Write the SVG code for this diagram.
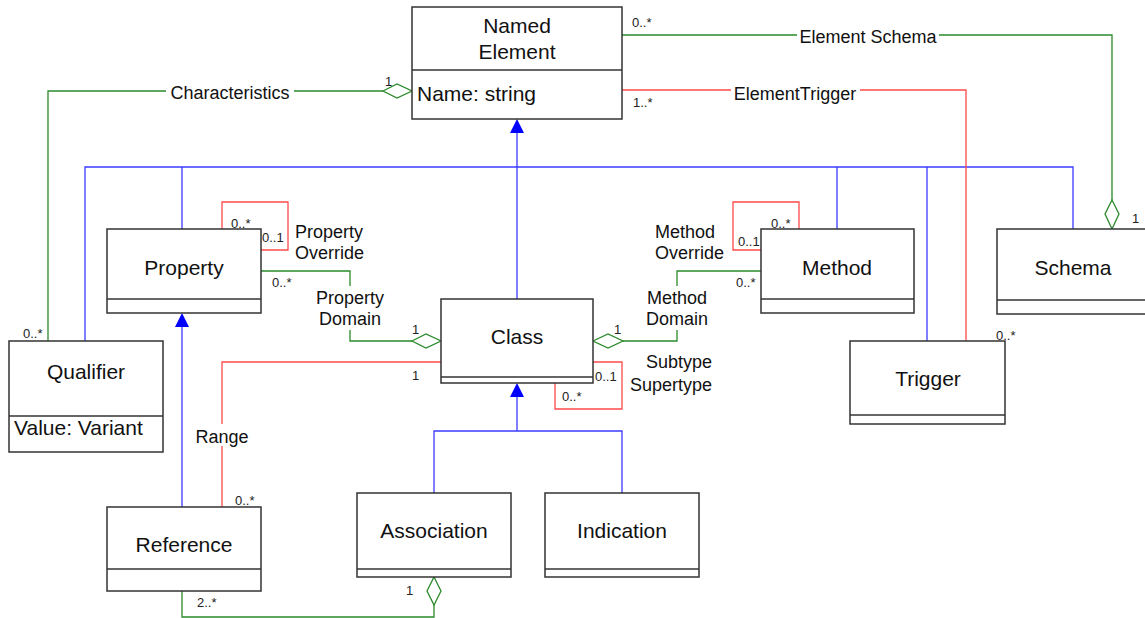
<svg xmlns="http://www.w3.org/2000/svg" width="1145" height="618" viewBox="0 0 1145 618">
  <style>
    .box { fill: #ffffff; stroke: #333333; stroke-width: 1.5; }
    .div { stroke: #333333; stroke-width: 1.5; fill: none; }
    .name { font-family: "Liberation Sans", Arial, sans-serif; font-size: 21px; fill: #111111; }
    .lbl { font-family: "Liberation Sans", Arial, sans-serif; font-size: 18px; fill: #111111; }
    .mul { font-family: "Liberation Sans", Arial, sans-serif; font-size: 13px; fill: #222222; }
    .gen { stroke: #3b3bff; stroke-width: 1.3; fill: none; }
    .agg { stroke: #2a8a2a; stroke-width: 1.3; fill: none; }
    .ref { stroke: #ff4a4a; stroke-width: 1.3; fill: none; }
    .dia { stroke: #2a8a2a; stroke-width: 1.3; fill: #ffffff; }
    .tri { fill: #0000ff; stroke: none; }
    .bg { fill: #ffffff; stroke: none; }
  </style>
  <rect width="1145" height="618" fill="#ffffff"/>

  <g id="connectors">
    <!-- generalisation to Named Element -->
    <path class="gen" d="M85,341 V167 H1073 V229 M182,229 V167 M837,229 V167 M927,341 V167 M517,299 V132"/>
    <polygon class="tri" points="517,119 510,133 524,133"/>
    <!-- generalisation to Property -->
    <path class="gen" d="M182,507 V327"/>
    <polygon class="tri" points="182,313 175,327 189,327"/>
    <!-- generalisation to Class -->
    <path class="gen" d="M434,493 V431 H622 V493 M517,431 V397"/>
    <polygon class="tri" points="517,383 510,397 524,397"/>

    <!-- Characteristics -->
    <path class="agg" d="M48,341 V91 H383"/>
    <polygon class="dia" points="383,91 397,84 412,91 397,98"/>
    <!-- Element Schema -->
    <path class="agg" d="M622,35 H1112 V200"/>
    <polygon class="dia" points="1112,200 1119,214 1112,229 1105,214"/>
    <!-- Property Domain -->
    <path class="agg" d="M261,271 H350 V341 H412"/>
    <polygon class="dia" points="412,341 426,334 441,341 426,348"/>
    <!-- Method Domain -->
    <path class="agg" d="M761,271 H677 V341 H623"/>
    <polygon class="dia" points="593,341 608,334 623,341 608,348"/>
    <!-- Association to Reference -->
    <path class="agg" d="M182,591 V617 H434 V605"/>
    <polygon class="dia" points="434,577 441,591 434,605 427,591"/>

    <!-- ElementTrigger -->
    <path class="ref" d="M622,90 H966 V341"/>
    <!-- Property Override -->
    <path class="ref" d="M222,229 V202 H288 V250 H261"/>
    <!-- Method Override -->
    <path class="ref" d="M761,250 H733 V202 H799 V229"/>
    <!-- Subtype / Supertype -->
    <path class="ref" d="M593,362 H622 V409 H555 V383"/>
    <!-- Range -->
    <path class="ref" d="M222,507 V362 H441"/>

    <!-- association labels (white backing breaks the lines) -->
    <rect class="bg" x="166" y="82" width="128" height="18"/>
    <text class="lbl" x="230" y="99" text-anchor="middle">Characteristics</text>
    <rect class="bg" x="797" y="26" width="142" height="18"/>
    <text class="lbl" x="868" y="43" text-anchor="middle">Element Schema</text>
    <rect class="bg" x="731" y="81" width="129" height="18"/>
    <text class="lbl" x="795" y="100" text-anchor="middle">ElementTrigger</text>
    <rect class="bg" x="196" y="424" width="54" height="22"/>
    <text class="lbl" x="222" y="443" text-anchor="middle">Range</text>
    <rect class="bg" x="312" y="286" width="76" height="44"/>
    <text class="lbl" x="350" y="304" text-anchor="middle">Property</text>
    <text class="lbl" x="350" y="325" text-anchor="middle">Domain</text>
    <rect class="bg" x="642" y="286" width="70" height="44"/>
    <text class="lbl" x="677" y="304" text-anchor="middle">Method</text>
    <text class="lbl" x="677" y="325" text-anchor="middle">Domain</text>
    <text class="lbl" x="295" y="238">Property</text>
    <text class="lbl" x="295" y="259">Override</text>
    <text class="lbl" x="655" y="238">Method</text>
    <text class="lbl" x="655" y="259">Override</text>
    <text class="lbl" x="712" y="368" text-anchor="end">Subtype</text>
    <text class="lbl" x="712" y="391" text-anchor="end">Supertype</text>

    <!-- multiplicities -->
    <text class="mul" x="632" y="27">0..*</text>
    <text class="mul" x="633" y="107">1..*</text>
    <text class="mul" x="385" y="86">1</text>
    <text class="mul" x="23" y="338">0..*</text>
    <text class="mul" x="231" y="228">0..*</text>
    <text class="mul" x="262" y="242">0..1</text>
    <text class="mul" x="272" y="287">0..*</text>
    <text class="mul" x="412" y="334">1</text>
    <text class="mul" x="771" y="228">0..*</text>
    <text class="mul" x="738" y="246">0..1</text>
    <text class="mul" x="736" y="287">0..*</text>
    <text class="mul" x="614" y="334">1</text>
    <text class="mul" x="595" y="381">0..1</text>
    <text class="mul" x="562" y="401">0..*</text>
    <text class="mul" x="412" y="380">1</text>
    <text class="mul" x="235" y="505">0..*</text>
    <text class="mul" x="1132" y="223">1</text>
    <text class="mul" x="996" y="340">0..*</text>
    <text class="mul" x="406" y="595">1</text>
    <text class="mul" x="197" y="607">2..*</text>
  </g>

  <g id="named-element">
    <rect class="box" x="412" y="7" width="210" height="112"/>
    <line class="div" x1="412" y1="70" x2="622" y2="70"/>
    <text class="name" x="517" y="33" text-anchor="middle">Named</text>
    <text class="name" x="517" y="59" text-anchor="middle">Element</text>
    <text class="name" x="417" y="101">Name: string</text>
  </g>

  <g id="property">
    <rect class="box" x="107" y="229" width="154" height="84"/>
    <line class="div" x1="107" y1="299" x2="261" y2="299"/>
    <text class="name" x="184" y="275" text-anchor="middle">Property</text>
  </g>

  <g id="method">
    <rect class="box" x="761" y="229" width="153" height="84"/>
    <line class="div" x1="761" y1="299" x2="914" y2="299"/>
    <text class="name" x="837" y="275" text-anchor="middle">Method</text>
  </g>

  <g id="schema">
    <rect class="box" x="997" y="229" width="160" height="85"/>
    <line class="div" x1="997" y1="300" x2="1157" y2="300"/>
    <text class="name" x="1073" y="275" text-anchor="middle">Schema</text>
  </g>

  <g id="class">
    <rect class="box" x="441" y="299" width="152" height="84"/>
    <line class="div" x1="441" y1="377" x2="593" y2="377"/>
    <text class="name" x="517" y="344" text-anchor="middle">Class</text>
  </g>

  <g id="qualifier">
    <rect class="box" x="9" y="341" width="154" height="111"/>
    <line class="div" x1="9" y1="416" x2="163" y2="416"/>
    <text class="name" x="86" y="379" text-anchor="middle">Qualifier</text>
    <text class="name" x="14" y="435">Value: Variant</text>
  </g>

  <g id="trigger">
    <rect class="box" x="850" y="341" width="155" height="83"/>
    <line class="div" x1="850" y1="415" x2="1005" y2="415"/>
    <text class="name" x="928" y="386" text-anchor="middle">Trigger</text>
  </g>

  <g id="reference">
    <rect class="box" x="107" y="507" width="154" height="84"/>
    <line class="div" x1="107" y1="569" x2="261" y2="569"/>
    <text class="name" x="184" y="552" text-anchor="middle">Reference</text>
  </g>

  <g id="association">
    <rect class="box" x="357" y="493" width="154" height="84"/>
    <line class="div" x1="357" y1="569" x2="511" y2="569"/>
    <text class="name" x="434" y="538" text-anchor="middle">Association</text>
  </g>

  <g id="indication">
    <rect class="box" x="545" y="493" width="154" height="84"/>
    <line class="div" x1="545" y1="569" x2="699" y2="569"/>
    <text class="name" x="622" y="538" text-anchor="middle">Indication</text>
  </g>
</svg>
